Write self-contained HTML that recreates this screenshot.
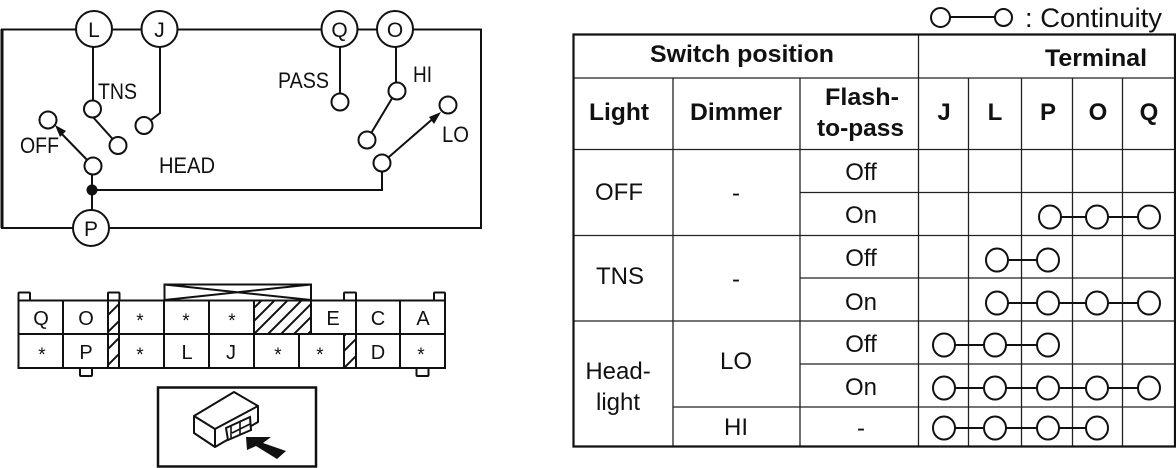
<!DOCTYPE html>
<html><head><meta charset="utf-8"><style>
html,body{margin:0;padding:0;background:#fff;width:1176px;height:468px;overflow:hidden}
svg{display:block}
text{font-family:"Liberation Sans",Arial,sans-serif;fill:#111}
.b{font-weight:bold;font-size:24px}
.n{font-size:27px}
.m{font-size:21px;text-anchor:middle}
.c{fill:#fff;stroke:#111;stroke-width:2}
.l{fill:none;stroke:#111;stroke-width:2}
.g{stroke:#222;stroke-width:1.3;fill:none}
.lab{font-size:22px}
.t{font-size:24px;text-anchor:middle}
.s{font-size:20px;text-anchor:middle}
.a{font-size:19px;text-anchor:middle}
</style></head><body>
<svg width="1176" height="468" viewBox="0 0 1176 468" xmlns="http://www.w3.org/2000/svg">
<defs>
<clipPath id="h1"><rect x="108" y="300" width="11.500" height="68"/></clipPath>
<clipPath id="h2"><rect x="254" y="300" width="57" height="34"/></clipPath>
<clipPath id="h3"><rect x="344" y="334" width="12" height="34"/></clipPath>
</defs>

<!-- circuit -->
<path class="l" d="M2 29.500H481V228H2Z"/>
<path d="M2 29V228" stroke="#111" stroke-width="3"/>
<path class="l" d="M93 47V102M160 47V113L146 124M340 47V94M396 47V83M397 90L367 140M92 116L118 145M92 175V210M92 190H382V172"/>
<path class="l" d="M93 166L58 130M382 163L436 116"/>
<path d="M55 125L66 131L60 137ZM441 112L429 117L434 124Z" fill="#111"/>
<circle cx="92" cy="190" r="5.500" fill="#111"/>
<circle class="c" cx="94" cy="29" r="18"/><circle class="c" cx="159.500" cy="29" r="18"/><circle class="c" cx="339.500" cy="29" r="18"/><circle class="c" cx="395" cy="29" r="18"/><circle class="c" cx="91" cy="228" r="18"/>
<circle class="c" cx="92.500" cy="109" r="8.500"/><circle class="c" cx="118" cy="145.500" r="8.500"/><circle class="c" cx="144" cy="125.500" r="8.500"/><circle class="c" cx="340" cy="102" r="8.500"/><circle class="c" cx="397" cy="91" r="8.500"/><circle class="c" cx="367" cy="140" r="8.500"/><circle class="c" cx="382" cy="163" r="8.500"/><circle class="c" cx="448" cy="105" r="8.500"/><circle class="c" cx="48" cy="120" r="8.500"/><circle class="c" cx="93" cy="166" r="8.500"/>
<text class="m" x="94" y="37">L</text><text class="m" x="159.500" y="37">J</text><text class="m" x="339.500" y="37">Q</text><text class="m" x="395" y="37">O</text><text class="m" x="91" y="236">P</text>
<text class="lab" x="98" y="99" textLength="39" lengthAdjust="spacingAndGlyphs">TNS</text>
<text class="lab" x="278" y="88" textLength="51" lengthAdjust="spacingAndGlyphs">PASS</text>
<text class="lab" x="413" y="82" textLength="19" lengthAdjust="spacingAndGlyphs">HI</text>
<text class="lab" x="442" y="142" textLength="27" lengthAdjust="spacingAndGlyphs">LO</text>
<text class="lab" x="20" y="153" textLength="39" lengthAdjust="spacingAndGlyphs">OFF</text>
<text class="lab" x="159" y="173" textLength="56" lengthAdjust="spacingAndGlyphs">HEAD</text>

<!-- connector -->
<g class="l">
<rect x="18.500" y="292.500" width="11.500" height="8" rx="1"/><rect x="108" y="292.500" width="11.500" height="8" rx="1"/><rect x="344" y="292.500" width="12" height="8" rx="1"/><rect x="434" y="292.500" width="11" height="8" rx="1"/>
<rect x="80" y="368" width="12" height="8" rx="1"/><rect x="416.500" y="368" width="12" height="8" rx="1"/>
</g>
<rect x="18.500" y="300.500" width="426.500" height="67.500" fill="#fff" stroke="#111" stroke-width="2"/>
<g class="l" clip-path="url(#h1)"><path d="M98 310L128 280M98 325L128 295M98 342L128 312M98 359L128 329M98 375L128 345M98 392L128 362"/></g>
<g class="l" clip-path="url(#h2)"><path d="M240 322L290 272M240 335L300 275M240 348L310 278M240 362L320 282M240 375L330 285M240 388L340 288M240 402L350 292"/></g>
<g class="l" clip-path="url(#h3)"><path d="M330 350L370 310M330 365L370 325M330 382L370 342M330 399L370 359"/></g>
<path class="l" d="M18 334H445M63 300V368M108 300V368M119 300V368M164 300V368M209 300V368M254 300V368M311 300V334M356 300V368M400 300V368M299 334V368M344 334V368"/>
<path class="l" d="M164.500 300V284.500H311V300M164.500 284.500L311 300M311 284.500L164.500 300"/>
<text class="s" x="41" y="325">Q</text><text class="s" x="86" y="325">O</text><text class="s" x="333" y="325">E</text><text class="s" x="378" y="325">C</text><text class="s" x="423" y="325">A</text>
<text class="s" x="86" y="359">P</text><text class="s" x="187" y="359">L</text><text class="s" x="231" y="359">J</text><text class="s" x="378" y="359">D</text>
<text class="a" x="140" y="327">*</text><text class="a" x="186" y="327">*</text><text class="a" x="232" y="327">*</text>
<text class="a" x="42" y="361">*</text><text class="a" x="140" y="361">*</text><text class="a" x="278" y="361">*</text><text class="a" x="320" y="361">*</text><text class="a" x="421" y="361">*</text>
<rect x="158" y="387.500" width="158" height="79" fill="#fff" stroke="#111" stroke-width="2.500"/>
<path d="M194 416L234 392L258 406L215 429ZM194 416V433L215 447V429M215 447L258 422V406" fill="#fff" stroke="#111" stroke-width="2" stroke-linejoin="round"/>
<path d="M226 428L250 417L251 430L228 440Z" fill="#fff" stroke="#111" stroke-width="2"/>
<path d="M231 426V439M232 433L250 424M240 422V435" class="l" style="stroke-width:1.600"/>
<path d="M246 437L271 437L263 443L286 451L277 459L256 446L247 450Z" fill="#111"/>

<!-- table -->
<path class="g" d="M573 78H1176M573 149.500H1176M800 192.500H1176M573 235.500H1176M800 278H1176M573 321H1176M800 364H1176M673 407H1176"/>
<path class="g" d="M673 78V447M800 78V447M918.500 34V447M968.500 78V447M1021.500 78V447M1072.500 78V447M1122.500 78V447"/>
<path d="M573.500 34.500H1175V446.500H573.500Z" fill="none" stroke="#111" stroke-width="2.200"/>

<path class="l" d="M950 17H995"/>
<path class="l" d="M1048 217H1149M997 260H1048M997 303H1149M944 345H1048M944 388H1149M944 428H1097"/>
<g class="c">
<circle cx="940.500" cy="17.500" r="9.500"/><circle cx="1003.500" cy="17.500" r="8.500"/>
<ellipse cx="1050" cy="217" rx="11" ry="11.500"/><ellipse cx="1097" cy="217" rx="11" ry="11.500"/><ellipse cx="1149" cy="217" rx="11" ry="11.500"/>
<ellipse cx="997" cy="260" rx="11" ry="11.500"/><ellipse cx="1048" cy="260" rx="11" ry="11.500"/>
<ellipse cx="997" cy="303" rx="11" ry="11.500"/><ellipse cx="1048" cy="303" rx="11" ry="11.500"/><ellipse cx="1097" cy="303" rx="11" ry="11.500"/><ellipse cx="1149" cy="303" rx="11" ry="11.500"/>
<ellipse cx="944" cy="345" rx="11" ry="11.500"/><ellipse cx="995" cy="345" rx="11" ry="11.500"/><ellipse cx="1048" cy="345" rx="11" ry="11.500"/>
<ellipse cx="944" cy="388" rx="11" ry="11.500"/><ellipse cx="995" cy="388" rx="11" ry="11.500"/><ellipse cx="1048" cy="388" rx="11" ry="11.500"/><ellipse cx="1097" cy="388" rx="11" ry="11.500"/><ellipse cx="1149" cy="388" rx="11" ry="11.500"/>
<ellipse cx="944" cy="428" rx="11" ry="11.500"/><ellipse cx="995" cy="428" rx="11" ry="11.500"/><ellipse cx="1048" cy="428" rx="11" ry="11.500"/><ellipse cx="1097" cy="428" rx="11" ry="11.500"/>
</g>

<text class="n" x="1025" y="27" textLength="137" lengthAdjust="spacingAndGlyphs">: Continuity</text>
<text class="b" x="650" y="62" textLength="184" lengthAdjust="spacingAndGlyphs">Switch position</text>
<text class="b" x="1045" y="66" textLength="102" lengthAdjust="spacingAndGlyphs">Terminal</text>
<text class="b" x="589" y="120" textLength="60" lengthAdjust="spacingAndGlyphs">Light</text>
<text class="b" x="690" y="120" textLength="92" lengthAdjust="spacingAndGlyphs">Dimmer</text>
<text class="b" x="825" y="105" textLength="74" lengthAdjust="spacingAndGlyphs">Flash-</text>
<text class="b" x="817" y="136" textLength="87" lengthAdjust="spacingAndGlyphs">to-pass</text>
<text class="b" x="944" y="120" text-anchor="middle">J</text><text class="b" x="995" y="120" text-anchor="middle">L</text><text class="b" x="1048" y="120" text-anchor="middle">P</text><text class="b" x="1098" y="120" text-anchor="middle">O</text><text class="b" x="1149" y="120" text-anchor="middle">Q</text>
<text class="t" x="619" y="200">OFF</text>
<text class="t" x="736" y="201">-</text>
<text class="t" x="861" y="180">Off</text><text class="t" x="861" y="223">On</text>
<text class="t" x="620" y="284">TNS</text>
<text class="t" x="736" y="287">-</text>
<text class="t" x="861" y="266">Off</text><text class="t" x="861" y="310">On</text>
<text class="t" x="618" y="379">Head-</text><text class="t" x="618" y="410">light</text>
<text class="t" x="736" y="369">LO</text>
<text class="t" x="861" y="352">Off</text><text class="t" x="861" y="395">On</text>
<text class="t" x="736" y="435">HI</text>
<text class="t" x="861" y="436">-</text>
</svg>
</body></html>
